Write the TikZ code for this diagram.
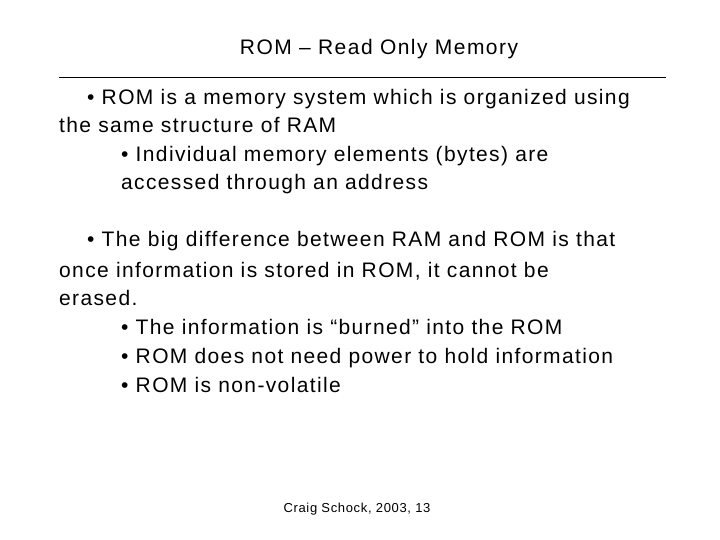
\documentclass[tikz,border=0pt]{standalone}
\usepackage{fontspec}
\setmainfont{Liberation Sans}
\begin{document}
\begin{tikzpicture}[x=1pt,y=-1pt,
  txt/.style={anchor=base west,inner sep=0pt,font=\fontsize{21}{25}\selectfont\addfontfeatures{LetterSpace=6.5}}]
\useasboundingbox[fill=white] (0,0) rectangle (720,540);
\node[anchor=base,inner sep=0pt,font=\fontsize{21}{25}\selectfont\addfontfeatures{LetterSpace=7}] (title) at (379,55) {ROM – Read Only Memory};
\coordinate (l1) at (59,77); \coordinate (l2) at (666,77);
\draw[line width=0.8pt] (l1) -- (l2);
\node[txt] (a1) at (87,105) {• ROM is a memory system which is organized using};
\node[txt] (a2) at (59,133) {the same structure of RAM};
\node[txt] (a3) at (121,162) {• Individual memory elements (bytes) are};
\node[txt] (a4) at (121,190) {accessed through an address};
\node[txt] (b1) at (87,247) {• The big difference between RAM and ROM is that};
\node[txt] (b2) at (59,277) {once information is stored in ROM, it cannot be};
\node[txt] (b3) at (59,305) {erased.};
\node[txt] (b4) at (121,334) {• The information is “burned” into the ROM};
\node[txt] (b5) at (121,363) {• ROM does not need power to hold information};
\node[txt] (b6) at (121,392) {• ROM is non-volatile};
\node[anchor=base,inner sep=0pt,font=\fontsize{13}{16}\selectfont\addfontfeatures{LetterSpace=5}] (foot) at (357,512) {Craig Schock, 2003, 13};
\end{tikzpicture}
\end{document}
